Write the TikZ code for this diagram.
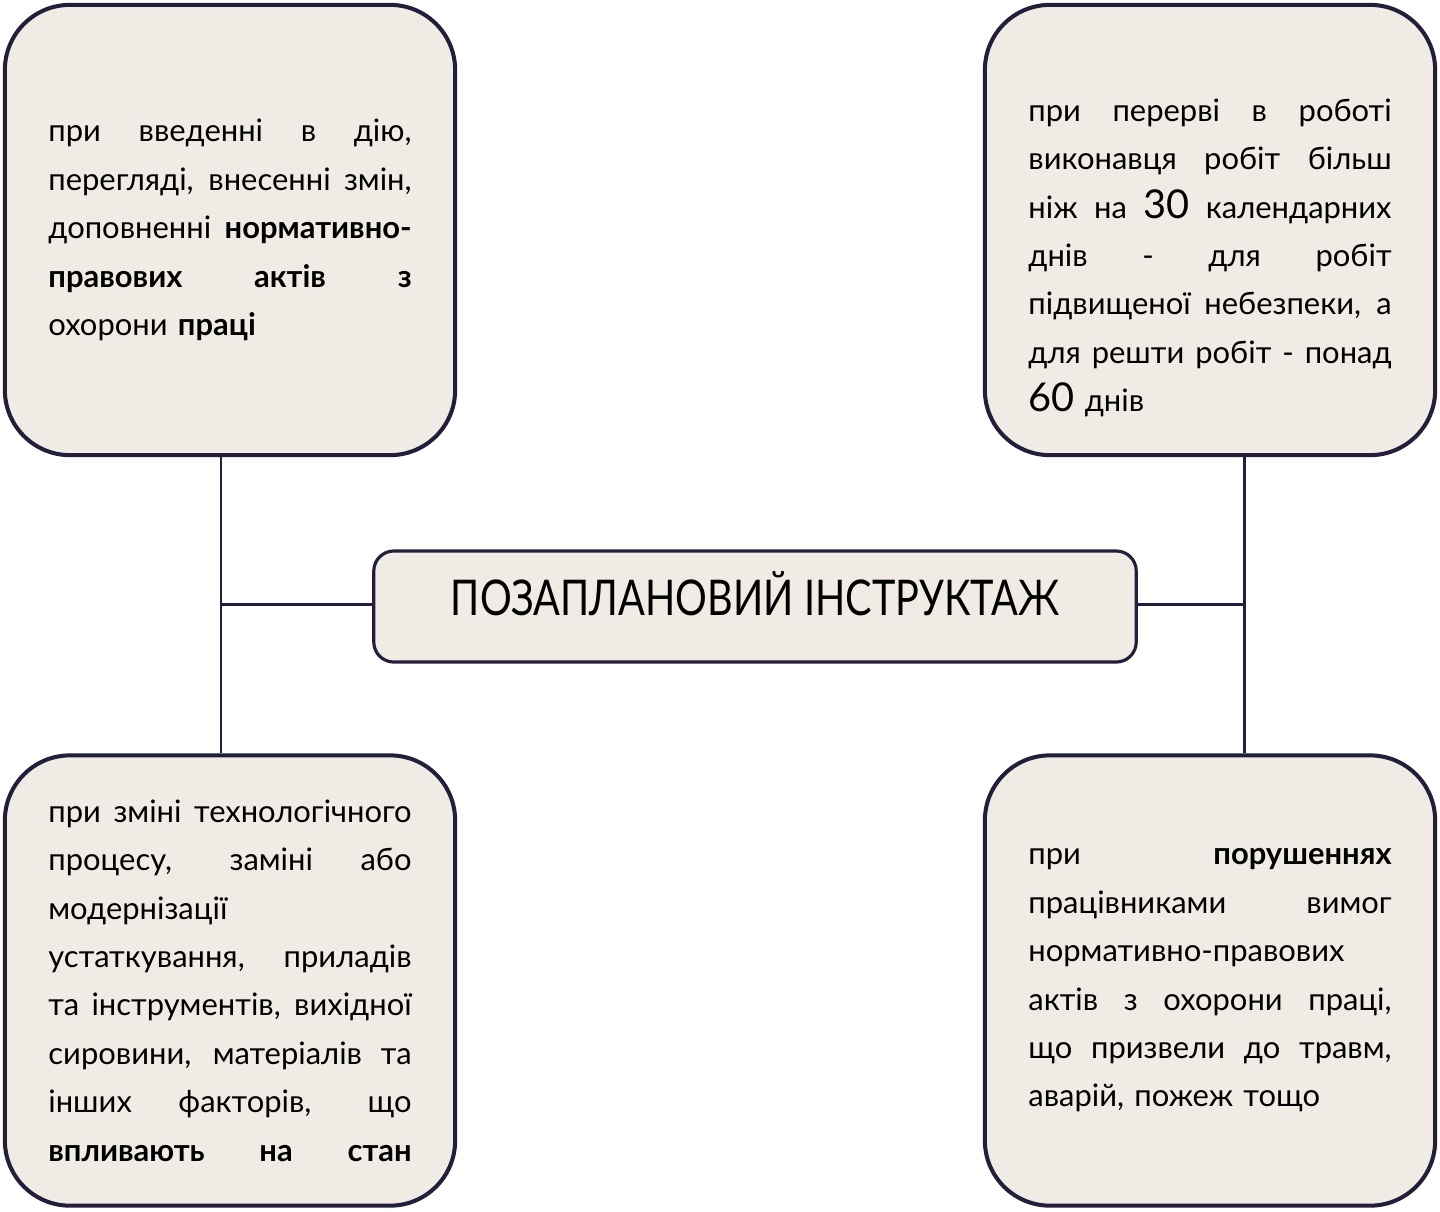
\documentclass[tikz,border=0pt]{standalone}
\usepackage{fontspec}
\setmainfont{Lato}
\usepackage{graphicx}
\usetikzlibrary{calc}
\definecolor{boxfill}{RGB}{240,236,229}
\definecolor{boxline}{RGB}{35,31,58}
\newcommand{\jline}[1]{\makebox[\linewidth][s]{\spaceskip=0pt\xspaceskip=0pt #1}}
\newcommand{\bignum}[1]{{\fontsize{11.3}{14}\selectfont #1}}

\begin{document}
\begin{tikzpicture}[x=0.01cm,y=-0.01cm,
  infobox/.style={draw=boxline,fill=boxfill,line width=1.15pt,
    rounded corners=0.65cm,minimum width=4.5cm,minimum height=4.5cm,
    text width=3.63cm,align=left,inner sep=0pt,
    font=\fontsize{8.8}{13.77}\selectfont},
  titlebox/.style={draw=boxline,fill=boxfill,line width=0.9pt,
    rounded corners=0.2cm,minimum width=7.62cm,minimum height=1.11cm,
    inner sep=0pt,text height=0.2cm,text depth=0.03cm},
  link/.style={draw=boxline,line width=0.85pt}]
  \useasboundingbox (0,0) rectangle (1440,1211);

  %% Title in the middle
  \node[titlebox] (TITLE) at (755,606.5)
    {\resizebox{6.08cm}{\height}{\fontsize{14}{14}\selectfont ПОЗАПЛАНОВИЙ ІНСТРУКТАЖ}};

  %% The four cases
  \node[infobox] (TOPL) at (230,230) {%
    \jline{при введенні в дію,}\\
    \jline{перегляді, внесенні змін,}\\
    \jline{доповненні \textbf{нормативно-}}\\
    \jline{\textbf{правових актів з}}\\
    охорони \textbf{праці}};

  \node[infobox] (TOPR) at (1210,230) {%
    \mbox{}\\[0.3cm]
    \jline{при перерві в роботі}\\
    \jline{виконавця робіт більш}\\
    \jline{ніж на \bignum{30} календарних}\\
    \jline{днів - для робіт}\\
    \jline{підвищеної небезпеки, а}\\
    \jline{для решти робіт - понад}\\
    \bignum{60} днів};

  \node[infobox] (BOTL) at (230,980.5) {%
    \jline{при зміні технологічного}\\
    \jline{процесу, заміні або}\\
    модернізації\\
    \jline{устаткування, приладів}\\
    \jline{та інструментів, вихідної}\\
    \jline{сировини, матеріалів та}\\
    \jline{інших факторів, що}\\
    \jline{\textbf{впливають на стан}}};

  \node[infobox] (BOTR) at (1210,980.5) {%
    \jline{при \textbf{порушеннях}}\\
    \jline{працівниками вимог}\\
    нормативно-правових\\
    \jline{актів з охорони праці,}\\
    \jline{що призвели до травм,}\\
    аварій, пожеж тощо};

  %% Connectors
  \coordinate (JOINL) at (221,604);
  \coordinate (JOINR) at (1244,604);
  \draw[link] (TOPL.south -| JOINL) -- (BOTL.north -| JOINL);
  \draw[link] (JOINL) -- (JOINL -| TITLE.west);
  \draw[link] (TOPR.south -| JOINR) -- (BOTR.north -| JOINR);
  \draw[link] (JOINR) -- (JOINR -| TITLE.east);
\end{tikzpicture}
\end{document}
